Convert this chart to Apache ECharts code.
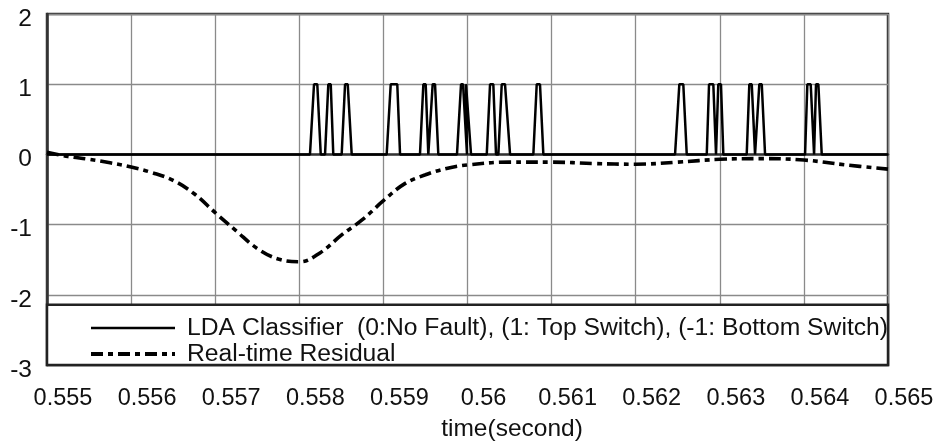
<!DOCTYPE html>
<html>
<head>
<meta charset="utf-8">
<script src="https://cdn.jsdelivr.net/npm/echarts@6/dist/echarts.min.js"></script>
<style>
html,body{margin:0;padding:0;background:#fff;}
#chart{width:937px;height:447px;}
</style>
</head>
<body>
<div id="chart"></div>
<script>
// ---- data ----
var seriesNames = ['LDA Classifier  (0:No Fault), (1: Top Switch), (-1: Bottom Switch)', 'Real-time Residual'];
var xTickLabels = ['0.555','0.556','0.557','0.558','0.559','0.56','0.561','0.562','0.563','0.564','0.565'];
var yTickLabels = ['-3','-2','-1','0','1','2'];
var xAxisTitle = 'time(second)';

var classTime = [
  0.555,
  0.558127,0.558175,0.558214,0.558255,
  0.558306,0.558345,0.558374,0.558404,
  0.558504,0.558544,0.558576,0.558623,
  0.559039,0.559087,0.559165,0.559198,
  0.559435,0.559475,0.559503,0.559534,
  0.559554,0.559586,0.559614,0.559653,
  0.559875,0.559923,0.559947,0.559994,0.559982,0.560042,
  0.560229,0.560268,0.560307,0.560339,
  0.560367,0.560407,0.560446,0.560506,
  0.560783,0.560823,0.560862,0.560902,
  0.562468,0.562519,0.562566,0.562607,
  0.562845,0.562872,0.562923,0.562955,
  0.562982,0.563014,0.563042,
  0.563320,0.563351,0.563380,0.563419,
  0.563439,0.563470,0.563499,0.563538,
  0.564014,0.564041,0.564081,0.564121,
  0.564144,0.564172,0.564212,
  0.565
];
var classValue = [
  0,
  0,1,1,0,
  0,1,1,0,
  0,1,1,0,
  0,1,1,0,
  0,1,1,0,
  0,1,1,0,
  0,1,1,0,1,0,
  0,1,1,0,
  0,1,1,0,
  0,1,1,0,
  0,1,1,0,
  0,1,1,0,
  1,1,0,
  0,1,1,0,
  0,1,1,0,
  0,1,1,0,
  1,1,0,
  0
];

var residualTime = [
  0.55500,0.55525,0.55550,0.55575,0.55600,0.55625,0.55650,0.55675,
  0.55700,0.55725,0.55750,0.55775,0.55800,0.55825,0.55850,0.55875,
  0.55900,0.55925,0.55950,0.55975,0.56000,0.56050,0.56100,0.56150,
  0.56200,0.56250,0.56300,0.56350,0.56400,0.56450,0.56500
];
var residualValue = [
  0.03,-0.03,-0.07,-0.12,-0.18,-0.26,-0.37,-0.56,
  -0.83,-1.09,-1.34,-1.49,-1.53,-1.40,-1.15,-0.93,
  -0.66,-0.42,-0.29,-0.20,-0.15,-0.11,-0.11,-0.13,
  -0.14,-0.11,-0.07,-0.06,-0.08,-0.15,-0.21
];

// ---- build ----
function pairs(xs, ys){ return xs.map(function(x,i){ return [x, ys[i]]; }); }
var FONT = '"Liberation Sans", Arial, sans-serif';

var chart = echarts.init(document.getElementById('chart'), null, {renderer:'canvas'});
var option = {
  animation: false,
  backgroundColor: '#fff',
  grid: {left: 47, right: 49, top: 14, bottom: 78, show: true, borderColor: '#333', borderWidth: 2.5, backgroundColor: 'transparent'},
  xAxis: {
    type: 'value', min: 0.555, max: 0.565, interval: 0.001,
    name: xAxisTitle, nameLocation: 'middle', nameGap: 52,
    nameTextStyle: {fontFamily: FONT, fontSize: 24.5, color: '#111', padding: [0,0,0,89]},
    axisLine: {show: true, lineStyle: {color: '#333', width: 2.5}},
    axisTick: {show: false},
    splitLine: {show: true, lineStyle: {color: '#8a8a8a', width: 1.3}},
    axisLabel: {
      fontFamily: FONT, fontSize: 23.5, color: '#111', margin: 22, padding: [0,0,0,32],
      formatter: function(v){ return xTickLabels[Math.round((v - 0.555) / 0.001)] || ''; }
    }
  },
  yAxis: {
    type: 'value', min: -3, max: 2, interval: 1,
    axisLine: {show: true, lineStyle: {color: '#333', width: 2.5}},
    axisTick: {show: false},
    splitLine: {show: true, lineStyle: {color: '#8a8a8a', width: 1.3}},
    axisLabel: {
      fontFamily: FONT, fontSize: 24.5, color: '#111', margin: 15,
      verticalAlign: 'top', lineHeight: 24, padding: [-7,0,0,0],
      formatter: function(v){ return yTickLabels[Math.round(v + 3)]; }
    }
  },
  legend: {
    orient: 'vertical', left: 89, top: 315, itemWidth: 84, itemHeight: 14, itemGap: 0,
    padding: 0,
    itemStyle: {opacity: 0},
    textStyle: {fontFamily: FONT, fontSize: 24.7, color: '#111', lineHeight: 24, padding: [2,0,0,7]},
    data: [
      {name: seriesNames[0], itemStyle: {opacity: 0}, lineStyle: {color: '#000', width: 2.5, type: 'solid'}},
      {name: seriesNames[1], itemStyle: {opacity: 0}, lineStyle: {color: '#000', width: 4, type: [12, 5, 5, 5]}}
    ],
    z: 10
  },
  series: [
    {
      name: seriesNames[0], type: 'line', symbol: 'none', z: 3,
      lineStyle: {color: '#000', width: 2.5},
      itemStyle: {color: '#000'},
      data: pairs(classTime, classValue)
    },
    {
      name: seriesNames[1], type: 'line', symbol: 'none', smooth: 0.4, z: 4,
      lineStyle: {color: '#000', width: 3.6, type: [12, 5, 5, 5]},
      itemStyle: {color: '#000'},
      data: pairs(residualTime, residualValue)
    }
  ]
};
chart.setOption(option);

// legend box drawn across the lower part of the plot
var p0 = chart.convertToPixel({gridIndex: 0}, [0.555, -2.14]);
var p1 = chart.convertToPixel({gridIndex: 0}, [0.565, -3]);
chart.setOption({
  graphic: [{
    type: 'rect', z: 8, zlevel: 0,
    shape: {x: p0[0], y: p0[1], width: p1[0] - p0[0], height: p1[1] - p0[1]},
    style: {fill: '#fff', stroke: '#222', lineWidth: 2.5}
  }]
});
</script>
</body>
</html>
